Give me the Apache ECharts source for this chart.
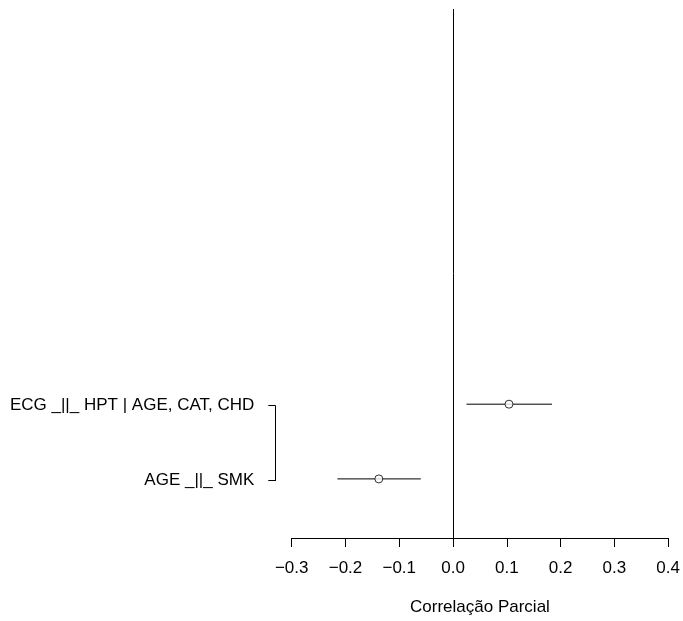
<!DOCTYPE html>
<html>
<head>
<meta charset="utf-8">
<script src="https://cdn.jsdelivr.net/npm/echarts@6/dist/echarts.min.js"></script>
<style>
  html, body { margin: 0; padding: 0; background: #fff; }
  #chart { width: 683px; height: 621px; }
</style>
</head>
<body>
<div id="chart"></div>
<script>
// linhas do gráfico, de baixo para cima (y = 1, 2)
const testes = ['AGE _||_ SMK', 'ECG _||_ HPT | AGE, CAT, CHD'];
const estimativa = [-0.138, 0.104];
const limInf = [-0.215, 0.025];
const limSup = [-0.060, 0.184];
const xTicks = [-0.3, -0.2, -0.1, 0.0, 0.1, 0.2, 0.3, 0.4];

const fonte = 'Liberation Sans, Arial, Helvetica, sans-serif';
const chart = echarts.init(document.getElementById('chart'));

const pontos = testes.map((t, i) => [estimativa[i], i + 1]);
const intervalos = testes.map((t, i) => [limInf[i], limSup[i], i + 1]);

chart.setOption({
  animation: false,
  grid: [
    // área principal (x de -0.3 a 0.4)
    { left: 291.7, right: 11.3, top: 9, bottom: 82 },
    // eixo y estilo R: só entre a primeira e a última marca
    { left: 275.3, width: 10, top: 405.7, height: 75 }
  ],
  xAxis: [
    {
      gridIndex: 0,
      type: 'value',
      min: xTicks[0],
      max: xTicks[xTicks.length - 1],
      interval: 0.1,
      name: 'Correlação Parcial',
      nameLocation: 'middle',
      nameGap: 61,
      nameTextStyle: { color: '#000', fontSize: 17, fontFamily: fonte },
      axisLine: { show: true, lineStyle: { color: '#000', width: 1 } },
      axisTick: { show: true, length: 9, lineStyle: { color: '#000' } },
      axisLabel: {
        color: '#000', fontSize: 17, fontFamily: fonte, margin: 22,
        formatter: v => v.toFixed(1).replace('-', '\u2212')
      },
      splitLine: { show: false }
    },
    { gridIndex: 1, type: 'value', show: false }
  ],
  yAxis: [
    {
      gridIndex: 0,
      type: 'value',
      min: 0.209,
      max: 7.289,
      show: false
    },
    {
      gridIndex: 1,
      type: 'value',
      min: 1,
      max: 2,
      interval: 1,
      position: 'left',
      axisLine: { show: true, lineStyle: { color: '#000', width: 1 } },
      axisTick: { show: true, length: 7, lineStyle: { color: '#000' } },
      axisLabel: {
        color: '#000', fontSize: 17, fontFamily: fonte, margin: 21,
        formatter: v => testes[v - 1] || ''
      },
      splitLine: { show: false }
    }
  ],
  series: [
    {
      type: 'custom',
      xAxisIndex: 0,
      yAxisIndex: 0,
      data: intervalos,
      renderItem: (params, api) => {
        const a = api.coord([api.value(0), api.value(2)]);
        const b = api.coord([api.value(1), api.value(2)]);
        return {
          type: 'line',
          shape: { x1: a[0], y1: a[1], x2: b[0], y2: b[1] },
          style: { stroke: '#000', lineWidth: 1 }
        };
      },
      markLine: {
        silent: true,
        symbol: 'none',
        label: { show: false },
        lineStyle: { color: '#000', width: 1, type: 'solid' },
        data: [{ xAxis: 0 }]
      }
    },
    {
      type: 'scatter',
      xAxisIndex: 0,
      yAxisIndex: 0,
      data: pontos,
      symbol: 'circle',
      symbolSize: 8,
      itemStyle: { color: '#fff', borderColor: '#000', borderWidth: 1 },
      z: 3
    }
  ]
});
</script>
</body>
</html>
